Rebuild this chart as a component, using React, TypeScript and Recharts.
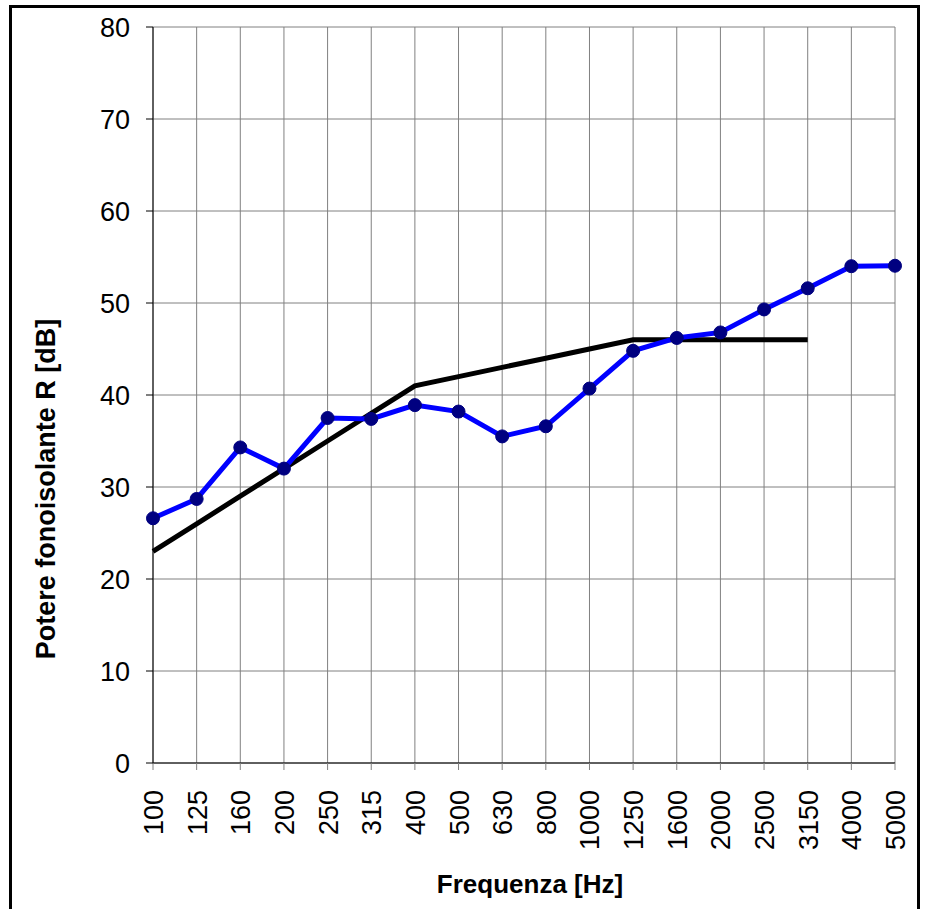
import React from "react";
import { LineChart, Line, XAxis, YAxis, CartesianGrid, Label } from "recharts";

const frequencies = ["100", "125", "160", "200", "250", "315", "400", "500", "630", "800", "1000", "1250", "1600", "2000", "2500", "3150", "4000", "5000"];
const measuredR = [26.6, 28.7, 34.3, 32.0, 37.5, 37.4, 38.9, 38.2, 35.5, 36.6, 40.7, 44.8, 46.2, 46.8, 49.3, 51.6, 54.0, 54.05];
const referenceCurve: (number | null)[] = [23, 26, 29, 32, 35, 38, 41, 42, 43, 44, 45, 46, 46, 46, 46, 46, null, null];
const yTicks = [0, 10, 20, 30, 40, 50, 60, 70, 80];

const data = frequencies.map((f, i) => ({ f, measured: measuredR[i], ref: referenceCurve[i] }));

const FONT = "Liberation Sans, Arial, sans-serif";

const XTick = (props: any) => {
  const { x, y, payload } = props;
  return (
    <text
      x={x}
      y={y}
      transform={`rotate(-90, ${x}, ${y})`}
      textAnchor="end"
      dy={10}
      dx={-18}
      fontSize={27}
      fontFamily={FONT}
      fill="#000"
    >
      {payload.value}
    </text>
  );
};

export default function App() {
  return (
    <div style={{ position: "absolute", left: 0, top: 0, width: 925, height: 909, overflow: "hidden", background: "#fff" }}>
      <div
        style={{
          position: "absolute",
          left: 9,
          top: 5,
          width: 911,
          height: 1000,
          border: "3px solid #000",
          boxSizing: "border-box",
        }}
      />
      <div style={{ position: "absolute", left: 0, top: 0 }}>
        <LineChart width={925} height={909} data={data} margin={{ top: 27, right: 30, bottom: 0, left: 0 }}>
          <CartesianGrid stroke="#808080" strokeWidth={1} />
          <XAxis
            dataKey="f"
            interval={0}
            height={146}
            tick={<XTick />}
            tickSize={7}
            axisLine={{ stroke: "#000" }}
            tickLine={{ stroke: "#808080" }}
          >
            <Label
              content={() => (
                <text x={530} y={893} textAnchor="middle" fontSize={26} fontWeight="bold" fontFamily={FONT} fill="#000">
                  Frequenza [Hz]
                </text>
              )}
            />
          </XAxis>
          <YAxis
            width={153}
            domain={[0, 80]}
            ticks={yTicks}
            interval={0}
            tickSize={7}
            tickMargin={16}
            axisLine={{ stroke: "#000" }}
            tickLine={{ stroke: "#000" }}
            tick={{ fontSize: 27, fontFamily: FONT, fill: "#000" }}
          >
            <Label
              content={() => (
                <text
                  x={55}
                  y={489}
                  transform="rotate(-90, 55, 489)"
                  textAnchor="middle"
                  fontSize={27}
                  fontWeight="bold"
                  fontFamily={FONT}
                  fill="#000"
                >
                  Potere fonoisolante R [dB]
                </text>
              )}
            />
          </YAxis>
          <Line
            type="linear"
            dataKey="ref"
            stroke="#000"
            strokeWidth={5}
            dot={false}
            connectNulls={false}
            isAnimationActive={false}
          />
          <Line
            type="linear"
            dataKey="measured"
            stroke="#0000FF"
            strokeWidth={5}
            dot={{ r: 6.5, fill: "#000080", stroke: "#000080", strokeWidth: 1 }}
            isAnimationActive={false}
          />
        </LineChart>
      </div>
    </div>
  );
}
